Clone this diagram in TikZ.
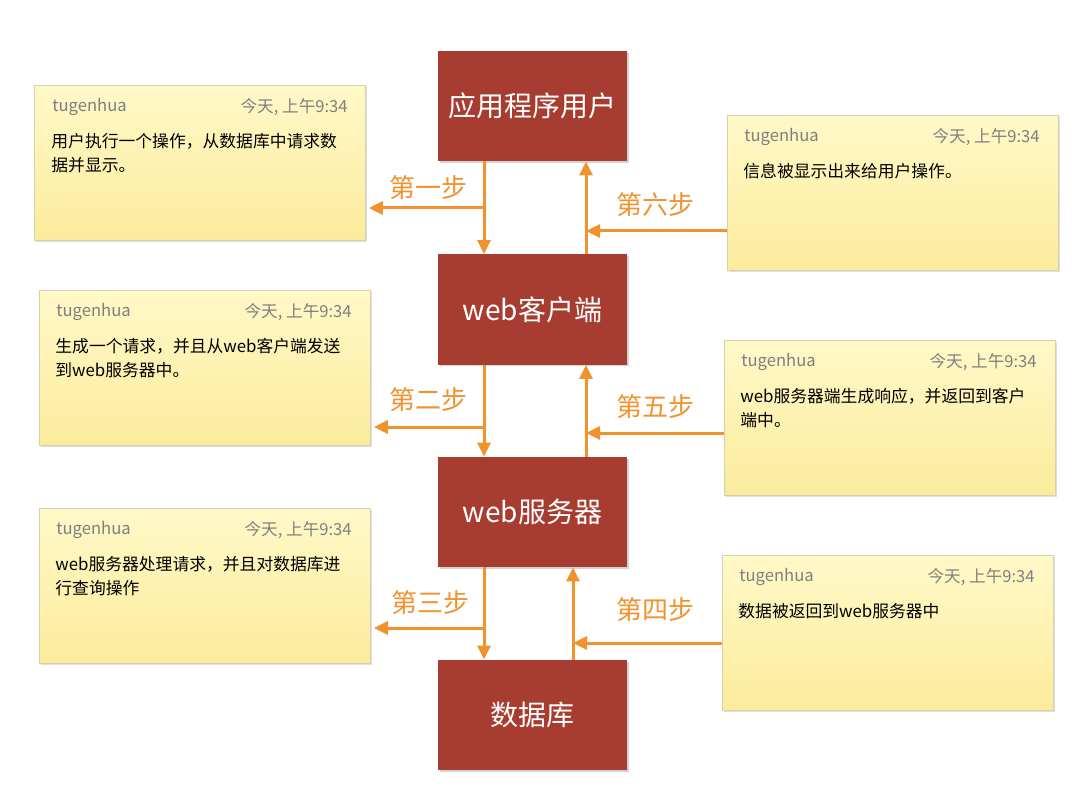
\documentclass[tikz,border=0pt]{standalone}
\usepackage{fontspec}
\setmainfont{Noto Sans CJK SC}
\usetikzlibrary{arrows.meta,shadows}
\definecolor{tierred}{HTML}{A73D30}
\definecolor{steporange}{HTML}{F0932F}
\definecolor{notetop}{HTML}{FFF9C8}
\definecolor{notebottom}{HTML}{FCEB9C}
\definecolor{noteedge}{HTML}{D8D0A8}
\definecolor{stampgray}{HTML}{7F7F7F}

\tikzset{
  tier/.style={fill=tierred, minimum width=94.5pt, minimum height=55pt, inner sep=0pt,
    text=white, font=\fontsize{14}{16}\selectfont,
    drop shadow={opacity=0.35, shadow xshift=0.8pt, shadow yshift=-0.8pt}},
  note/.style={draw=noteedge, line width=0.4pt, top color=notetop, bottom color=notebottom,
    minimum width=165.5pt, minimum height=77.5pt, inner sep=0pt, anchor=north west,
    drop shadow={opacity=0.25, shadow xshift=0.6pt, shadow yshift=-0.8pt}},
  author/.style={anchor=west, inner sep=0pt, text=stampgray, font=\fontsize{8.3}{10}\selectfont},
  stamp/.style={anchor=east, inner sep=0pt, text=stampgray, font=\fontsize{8.3}{10}\selectfont},
  body/.style={anchor=north west, inner sep=0pt, align=left, font=\fontsize{8.4}{12}\selectfont},
  flow/.style={draw=steporange, line width=1.5pt, -{Triangle[length=7pt,width=6.5pt]}},
  steplbl/.style={text=steporange, inner sep=0pt, font=\fontsize{13}{15}\selectfont}
}

\begin{document}
\begin{tikzpicture}[x=0.5pt,y=-0.5pt]
\useasboundingbox (0,0) rectangle (1080,796);

% Tiers
\node[tier] (app) at (532.5,106) {应用程序用户};
\node[tier] (client) at (532.5,309.5) {web客户端};
\node[tier] (server) at (532.5,512) {web服务器};
\node[tier] (db) at (532.5,715) {数据库};

% Notes on the left
\node[note] (n1) at (34,85) {};
\node[author] at (52,107) {tugenhua};
\node[stamp] at (348,107) {今天, 上午9:34};
\node[body] at (51,133) {用户执行一个操作，从数据库中请求数\\据并显示。};

\node[note] (n3) at (39,290) {};
\node[author] at (56,312) {tugenhua};
\node[stamp] at (352,312) {今天, 上午9:34};
\node[body] at (55,338) {生成一个请求，并且从web客户端发送\\到web服务器中。};

\node[note] (n5) at (39,508) {};
\node[author] at (56,530) {tugenhua};
\node[stamp] at (352,530) {今天, 上午9:34};
\node[body] at (55,556) {web服务器处理请求，并且对数据库进\\行查询操作};

% Notes on the right
\node[note] (n2) at (727,115) {};
\node[author] at (744,137) {tugenhua};
\node[stamp] at (1040,137) {今天, 上午9:34};
\node[body] at (743,163) {信息被显示出来给用户操作。};

\node[note] (n4) at (724,340) {};
\node[author] at (741,362) {tugenhua};
\node[stamp] at (1037,362) {今天, 上午9:34};
\node[body] at (740,388) {web服务器端生成响应，并返回到客户\\端中。};

\node[note] (n6) at (722,555) {};
\node[author] at (739,577) {tugenhua};
\node[stamp] at (1035,577) {今天, 上午9:34};
\node[body] at (738,603) {数据被返回到web服务器中};

% Branch points
\coordinate (d1) at (484,208);
\coordinate (d2) at (484,427);
\coordinate (d3) at (484,628);
\coordinate (u1) at (586,231);
\coordinate (u2) at (586,433);
\coordinate (u3) at (573,643);

% Requests going down
\draw[flow] (app.south -| d1) -- (client.north -| d1);
\draw[flow] (d1) -- ([xshift=1.5pt]n1.east |- d1);
\draw[flow] (client.south -| d2) -- (server.north -| d2);
\draw[flow] (d2) -- ([xshift=1.5pt]n3.east |- d2);
\draw[flow] (server.south -| d3) -- (db.north -| d3);
\draw[flow] (d3) -- ([xshift=1.5pt]n5.east |- d3);

% Responses going up
\draw[flow] (client.north -| u1) -- (app.south -| u1);
\draw[flow] (n2.west |- u1) -- (u1);
\draw[flow] (server.north -| u2) -- (client.south -| u2);
\draw[flow] (n4.west |- u2) -- (u2);
\draw[flow] (db.north -| u3) -- (server.south -| u3);
\draw[flow] (n6.west |- u3) -- (u3);

% Step labels
\node[steplbl] (s1) at (428,188) {第一步};
\node[steplbl] (s2) at (428,400) {第二步};
\node[steplbl] (s3) at (430,603) {第三步};
\node[steplbl] (s4) at (655,610) {第四步};
\node[steplbl] (s5) at (655,407) {第五步};
\node[steplbl] (s6) at (655,205) {第六步};
\end{tikzpicture}
\end{document}
